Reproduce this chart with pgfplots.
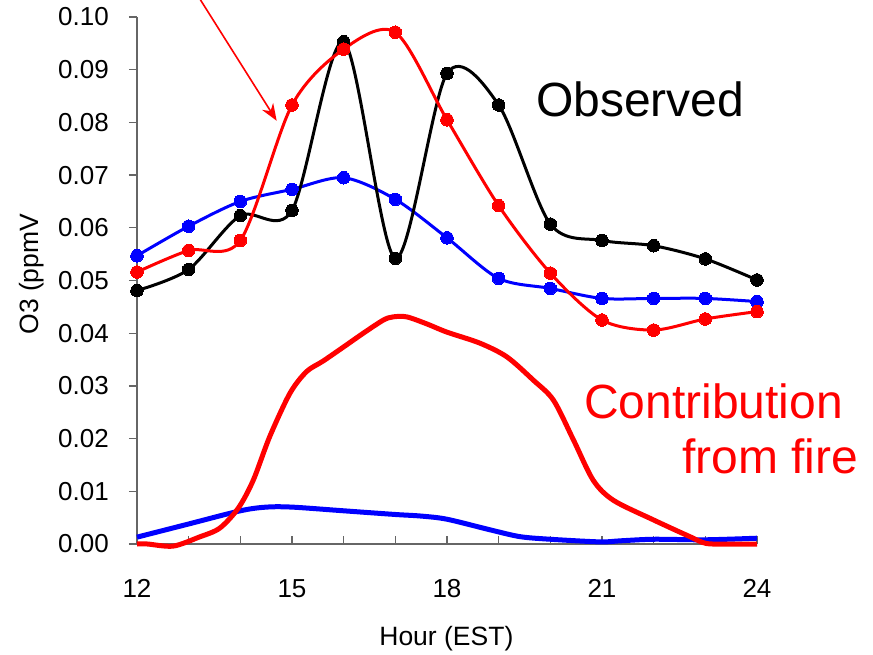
\documentclass[border=0pt]{standalone}
\usepackage{pgfplots}
\pgfplotsset{compat=1.18}
\usetikzlibrary{arrows.meta}
\usepackage{fontspec}
\setmainfont{Liberation Sans}
\begin{document}
\begin{tikzpicture}
\useasboundingbox (-137pt,-110pt) rectangle (736pt,544pt);
\begin{axis}[
  at={(0,0)}, anchor=south west,
  scale only axis, width=620pt, height=527pt,
  xmin=12, xmax=24, ymin=0, ymax=0.10,
  axis x line*=bottom, axis y line*=left,
  axis line style={draw=black!60, line width=1.3pt},
  xtick={12,15,18,21,24},
  minor xtick={13,14,16,17,19,20,22,23},
  ytick={0,0.01,0.02,0.03,0.04,0.05,0.06,0.07,0.08,0.09,0.10},
  scaled y ticks=false,
  /pgf/number format/assume math mode=true,
  yticklabel style={/pgf/number format/.cd, fixed, fixed zerofill, precision=2, /tikz/.cd,
     anchor=east, inner sep=0pt, xshift=-20pt},
  xticklabel style={anchor=base, inner sep=0pt, yshift=-53pt},
  tick label style={font=\fontsize{26}{31}\selectfont},
  major tick length=8pt, minor tick length=8pt,
  xtick align=inside, ytick align=outside,
  tick style={draw=black!60, line width=1.2pt},
  xlabel={Hour (EST)}, ylabel={O3 (ppmV},
  label style={font=\fontsize{26.5}{31}\selectfont},
  xlabel style={at={(axis description cs:0.499,-0.1935)}, anchor=base, inner sep=0pt},
  ylabel style={at={(axis description cs:-0.159,0.512)}, anchor=base, inner sep=0pt},
  clip=false,
]
% contribution from fire (thick)
\addplot[blue, line width=5pt, smooth, no markers] coordinates {
 (12,0.0013) (13,0.0038) (14,0.0063) (14.5,0.0070) (15,0.0070) (16,0.0063)
 (17,0.0056) (17.5,0.0053) (18,0.0047) (18.83,0.0027) (19.41,0.0014) (20,0.0009)
 (20.96,0.0004) (21.35,0.0006) (22,0.0009) (23,0.0008) (24,0.0011)};
\addplot[red, line width=5pt, smooth, no markers] coordinates {
 (12,0) (12.2,0) (12.7,-0.0004) (13.2,0.0013) (13.6,0.003) (13.96,0.0068)
 (14.25,0.0121) (14.57,0.0204) (14.96,0.0286) (15.28,0.0327) (15.6,0.0347)
 (16.0,0.0374) (16.38,0.040) (16.77,0.0425) (16.96,0.0431) (17.22,0.0431)
 (17.6,0.0418) (18.0,0.0402) (18.64,0.0381) (19.16,0.0355) (19.67,0.0311)
 (20.06,0.0273) (20.45,0.0197) (20.83,0.0121) (21.22,0.0083) (21.99,0.0046)
 (22.7,0.0014) (23.02,0.0001) (23.5,0) (24,0)};
% hourly series
\addplot[blue, line width=3pt, smooth, mark=*, mark size=6.3pt, mark options={solid, fill=blue, draw=blue, line width=0pt}] coordinates {
 (12,0.0547) (13,0.0603) (14,0.0650) (15,0.0673) (16,0.0695) (17,0.0654)
 (18,0.0581) (19,0.0504) (20,0.0485) (21,0.0466) (22,0.0466) (23,0.0466) (24,0.0460)};
\addplot[black, line width=3pt, smooth, mark=*, mark size=6.3pt, mark options={solid, fill=black, draw=black, line width=0pt}] coordinates {
 (12,0.0481) (13,0.0521) (14,0.0623) (15,0.0633) (16,0.0953) (17,0.0542)
 (18,0.0893) (19,0.0833) (20,0.0607) (21,0.0576) (22,0.0566) (23,0.0541) (24,0.0501)};
\addplot[red, line width=3pt, smooth, mark=*, mark size=6.3pt, mark options={solid, fill=red, draw=red, line width=0pt}] coordinates {
 (12,0.0516) (13,0.0557) (14,0.0576) (15,0.0833) (16,0.0939) (17,0.0971)
 (18,0.0805) (19,0.0642) (20,0.0514) (21,0.0425) (22,0.0406) (23,0.0427) (24,0.0441)};
% annotations
\draw[red, line width=1.6pt, -{Stealth[length=17pt, width=13pt]}] (axis cs:13.18,0.1040) -- (axis cs:14.704,0.0803);
\node[anchor=base west, inner sep=0pt, font=\fontsize{48}{56}\selectfont] at (axis cs:19.72,0.0811) {Observed};
\node[anchor=base west, inner sep=0pt, text=red, font=\fontsize{48}{56}\selectfont] at (axis cs:20.65,0.0239) {Contribution};
\node[anchor=base west, inner sep=0pt, text=red, font=\fontsize{48}{56}\selectfont] at (axis cs:22.55,0.01341) {from fire};
\end{axis}
\end{tikzpicture}
\end{document}
